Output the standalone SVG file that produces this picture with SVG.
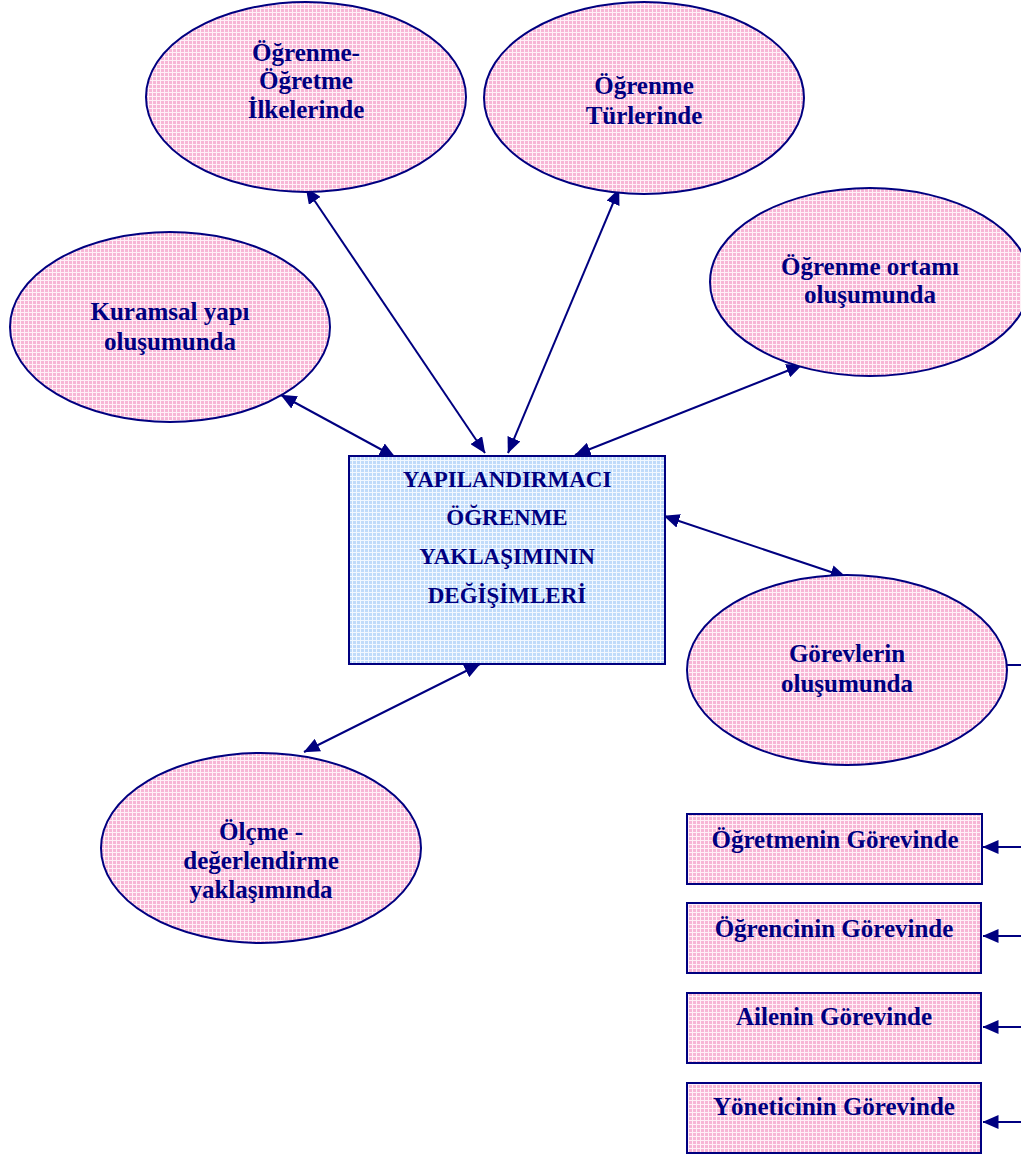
<svg xmlns="http://www.w3.org/2000/svg" width="1021" height="1155" viewBox="0 0 1021 1155">
  <defs>
    <!-- woven pink fill -->
    <pattern id="pinkWeave" width="4" height="4" patternUnits="userSpaceOnUse">
      <rect width="4" height="4" fill="#f7b6d6"/>
      <rect x="0" y="0" width="4" height="1" fill="#fff0f7"/>
      <rect x="0" y="0" width="1" height="4" fill="#fff0f7"/>
    </pattern>
    <!-- woven blue fill -->
    <pattern id="blueWeave" width="4" height="4" patternUnits="userSpaceOnUse">
      <rect width="4" height="4" fill="#c0dbfa"/>
      <rect x="0" y="0" width="4" height="1" fill="#f2f8ff"/>
      <rect x="0" y="0" width="1" height="4" fill="#f2f8ff"/>
    </pattern>
    <marker id="arrow" viewBox="0 0 16 14" refX="15.5" refY="7" markerWidth="16" markerHeight="14" markerUnits="userSpaceOnUse" orient="auto-start-reverse">
      <path d="M0,0 L16,7 L0,14 Z" fill="#000080"/>
    </marker>
    <style>
      .oval { fill: url(#pinkWeave); stroke: #000080; stroke-width: 2; }
      .box { fill: url(#pinkWeave); stroke: #000080; stroke-width: 2; }
      .core { fill: url(#blueWeave); stroke: #000080; stroke-width: 2; }
      .link { stroke: #000080; stroke-width: 2; fill: none; }
      .both { marker-start: url(#arrow); marker-end: url(#arrow); }
      .one { marker-end: url(#arrow); }
      text { font-family: "Liberation Serif", "Times New Roman", serif; font-weight: bold; fill: #000080; text-anchor: middle; }
      .t24 { font-size: 25px; }
      .t22 { font-size: 23px; }
    </style>
  </defs>

  <!-- connectors (drawn beneath the shapes) -->
  <g id="connectors">
    <line class="link both" x1="281" y1="395" x2="395" y2="457"/>
    <line class="link both" x1="306" y1="188" x2="485" y2="453"/>
    <line class="link both" x1="619" y1="189" x2="508" y2="453"/>
    <line class="link both" x1="802" y1="365" x2="575" y2="455"/>
    <line class="link both" x1="664" y1="516" x2="846" y2="577"/>
    <line class="link both" x1="480" y1="664" x2="304" y2="752"/>
    <line class="link" x1="1003" y1="665" x2="1021" y2="665"/>
    <line class="link one" x1="1021" y1="847" x2="983" y2="847"/>
    <line class="link one" x1="1021" y1="936" x2="983" y2="936"/>
    <line class="link one" x1="1021" y1="1027" x2="983" y2="1027"/>
    <line class="link one" x1="1021" y1="1122" x2="983" y2="1122"/>
  </g>

  <g id="ilkelerinde">
    <ellipse class="oval" cx="306" cy="97" rx="160" ry="95"/>
    <text class="t24" x="306" y="61">Öğrenme-</text>
    <text class="t24" x="306" y="89">Öğretme</text>
    <text class="t24" x="306" y="118">İlkelerinde</text>
  </g>

  <g id="turlerinde">
    <ellipse class="oval" cx="644" cy="98" rx="160" ry="96"/>
    <text class="t24" x="644" y="94">Öğrenme</text>
    <text class="t24" x="644" y="124">Türlerinde</text>
  </g>

  <g id="ortam">
    <ellipse class="oval" cx="870" cy="282" rx="160" ry="94"/>
    <text class="t24" x="870" y="275">Öğrenme ortamı</text>
    <text class="t24" x="870" y="303">oluşumunda</text>
  </g>

  <g id="kuramsal">
    <ellipse class="oval" cx="170" cy="327" rx="160" ry="95"/>
    <text class="t24" x="170" y="320">Kuramsal yapı</text>
    <text class="t24" x="170" y="350">oluşumunda</text>
  </g>

  <g id="merkez">
    <rect class="core" x="349" y="456" width="316" height="208"/>
    <text class="t22" x="507" y="487">YAPILANDIRMACI</text>
    <text class="t22" x="507" y="525">ÖĞRENME</text>
    <text class="t22" x="507" y="564">YAKLAŞIMININ</text>
    <text class="t22" x="507" y="603">DEĞİŞİMLERİ</text>
  </g>

  <g id="gorevler">
    <ellipse class="oval" cx="847" cy="670" rx="160" ry="95"/>
    <text class="t24" x="847" y="662">Görevlerin</text>
    <text class="t24" x="847" y="692">oluşumunda</text>
  </g>

  <g id="olcme">
    <ellipse class="oval" cx="261" cy="848" rx="160" ry="95"/>
    <text class="t24" x="261" y="840">Ölçme -</text>
    <text class="t24" x="261" y="869">değerlendirme</text>
    <text class="t24" x="261" y="898">yaklaşımında</text>
  </g>

  <g id="ogretmen">
    <rect class="box" x="687" y="814" width="295" height="70"/>
    <text class="t24" x="835" y="848">Öğretmenin Görevinde</text>
  </g>

  <g id="ogrenci">
    <rect class="box" x="687" y="903" width="294" height="70"/>
    <text class="t24" x="834" y="937">Öğrencinin Görevinde</text>
  </g>

  <g id="aile">
    <rect class="box" x="687" y="993" width="294" height="70"/>
    <text class="t24" x="834" y="1025">Ailenin Görevinde</text>
  </g>

  <g id="yonetici">
    <rect class="box" x="687" y="1083" width="294" height="70"/>
    <text class="t24" x="834" y="1115">Yöneticinin Görevinde</text>
  </g>
</svg>
